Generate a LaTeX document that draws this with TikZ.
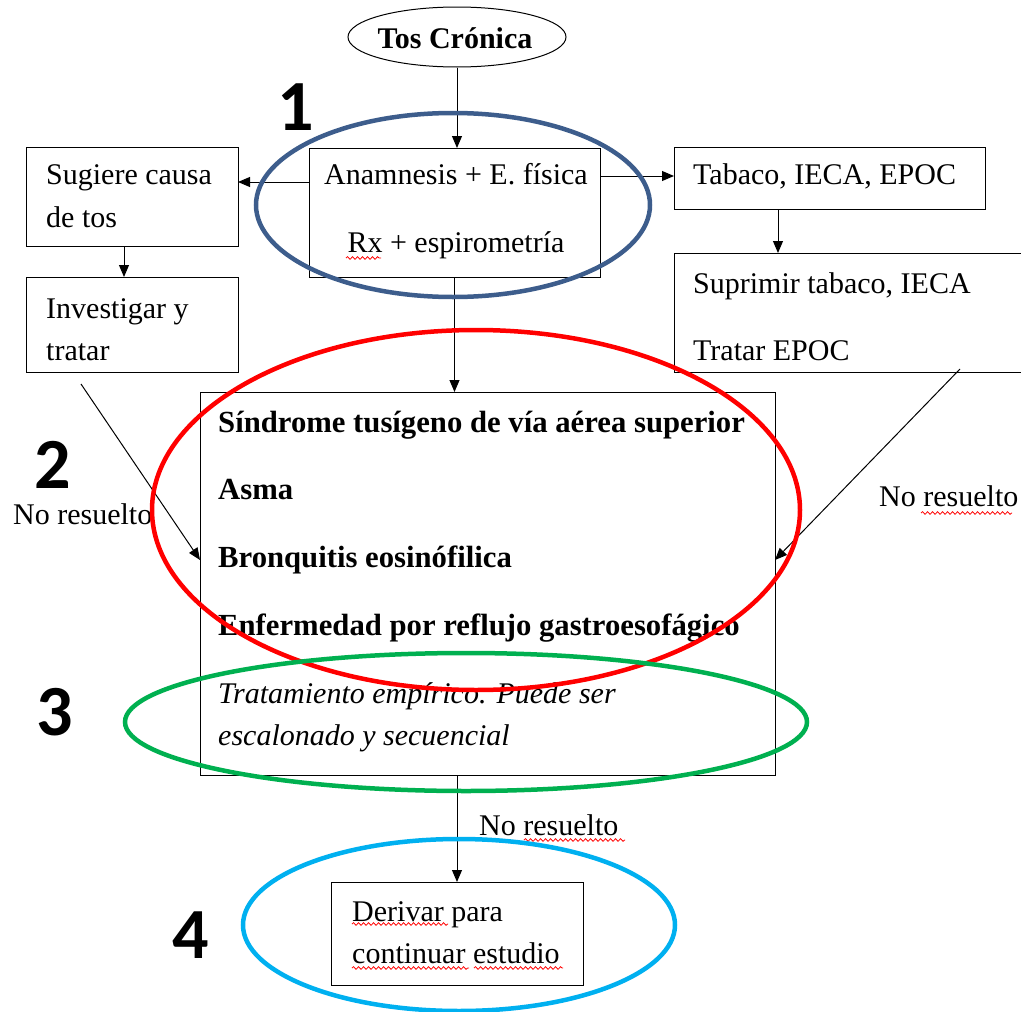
\documentclass[tikz,border=0pt]{standalone}
\usepackage{fontspec}
\setmainfont{Liberation Serif}
\newfontfamily\numfont{Carlito}
\usetikzlibrary{arrows.meta,calc,shapes.geometric,decorations.pathmorphing}
\definecolor{hlblue}{HTML}{3D5D8C}
\definecolor{hlred}{HTML}{FF0000}
\definecolor{hlgreen}{HTML}{00B050}
\definecolor{hlcyan}{HTML}{00B0F0}
\begin{document}
\begin{tikzpicture}[x=1pt,y=-1pt,
  box/.style={draw, line width=1pt, anchor=north west, inner sep=0pt, outer sep=0pt},
  txt/.style={anchor=base west, inner sep=0pt, font=\fontsize{30}{36}\selectfont},
  ctxt/.style={anchor=base, inner sep=0pt, font=\fontsize{30}{36}\selectfont},
  btxt/.style={txt, font=\fontsize{30.7}{36}\selectfont\bfseries},
  itxt/.style={txt, font=\fontsize{30}{36}\selectfont\itshape},
  num/.style={anchor=base, inner sep=0pt, font=\fontsize{72}{80}\selectfont\numfont\bfseries},
  arr/.style={line width=1pt, -{Triangle[length=12pt,width=10pt]}},
  hl/.style={line width=4.5pt},
  squig/.style={draw=red, line width=0.8pt, decorate, decoration={snake, segment length=5pt, amplitude=1.3pt}}]
\useasboundingbox (0,0) rectangle (1021,1012);
\clip (0,0) rectangle (1021,1012);

% start ellipse
\node[draw, ellipse, line width=1pt, minimum width=218pt, minimum height=60pt, inner sep=0pt] (T) at (457,37) {};
\node[ctxt, font=\fontsize{30}{36}\selectfont\bfseries] (Tt) at (455,48) {Tos Crónica};

% boxes
\node[box, minimum width=291pt, minimum height=129pt] (A) at (309,148) {};
\node[ctxt] (A1) at (456,184) {Anamnesis + E. física};
\node[ctxt] (A2) at (456,252) {Rx + espirometría};

\node[box, minimum width=212pt, minimum height=99pt] (S) at (26,147) {};
\node[txt] (S1) at (46,184) {Sugiere causa};
\node[txt] (S2) at (46,227) {de tos};

\node[box, minimum width=212pt, minimum height=95pt] (I) at (26,277) {};
\node[txt] (I1) at (46,318) {Investigar y};
\node[txt] (I2) at (46,360) {tratar};

\node[box, minimum width=311pt, minimum height=62pt] (B) at (674,147) {};
\node[txt] (B1) at (693,184) {Tabaco, IECA, EPOC};

\node[box, minimum width=370pt, minimum height=119pt] (U) at (674,253) {};
\node[txt] (U1) at (693,293) {Suprimir tabaco, IECA};
\node[txt] (U2) at (693,360) {Tratar EPOC};

\node[box, minimum width=575pt, minimum height=383pt] (M) at (200,392) {};
\node[btxt] (M1) at (218,432) {Síndrome tusígeno de vía aérea superior};
\node[btxt] (M2) at (218,499) {Asma};
\node[btxt] (M3) at (218,567) {Bronquitis eosinófilica};
\node[btxt] (M4) at (218,635) {Enfermedad por reflujo gastroesofágico};
\node[itxt] (M5) at (218,703) {Tratamiento empírico. Puede ser};
\node[itxt] (M6) at (218,745) {escalonado y secuencial};

\node[box, minimum width=252pt, minimum height=103pt] (D) at (331,882) {};
\node[txt] (D1) at (352,921) {Derivar para};
\node[txt] (D2) at (352,963) {continuar estudio};

% labels
\node[txt] (N1) at (13,524) {No resuelto};
\node[txt] (N2) at (879,506) {No resuelto};
\node[txt] (N3) at (479,835) {No resuelto};

% spell-check squiggles
\draw[squig] (346,258) -- (381,258);
\draw[squig] (921,513) -- (1012,513);
\draw[squig] (524,840) -- (625,840);
\draw[squig] (352,924) -- (448,924);
\draw[squig] (352,968) -- (469,968);
\draw[squig] (474,968) -- (563,968);

% connectors
\draw[arr] (T.south) -- (T.south |- A.north);
\coordinate (aL) at ([yshift=-34pt]A.north west);
\draw[arr] (aL) -- (aL -| S.east);
\coordinate (aR) at ([yshift=-28pt]A.north east);
\draw[arr] (aR) -- (aR -| B.west);
\coordinate (sB) at ([xshift=98pt]S.south west);
\draw[arr] (sB) -- (sB |- I.north);
\coordinate (bB) at ([xshift=104pt]B.south west);
\draw[arr] (bB) -- (bB |- U.north);
\draw[arr] (A.south) -- (A.south |- M.north);
\coordinate (iS) at ([xshift=55pt,yshift=-12pt]I.south west);
\coordinate (mL) at ([yshift=-168pt]M.north west);
\draw[arr] (iS) -- (mL);
\coordinate (uS) at ([xshift=286pt,yshift=3pt]U.south west);
\coordinate (mR) at ([yshift=-168pt]M.north east);
\draw[arr] (uS) -- (mR);
\coordinate (dT) at ([xshift=126pt]D.north west);
\draw[arr] (dT |- M.south) -- (dT);

% numbers
\node[num] (n1) at (296,130) {1};
\node[num] (n2) at (53,488) {2};
\node[num] (n3) at (55,735) {3};
\node[num] (n4) at (191,958) {4};

% highlight ellipses
\draw[hl, hlblue] (453,205) ellipse [x radius=197pt, y radius=92pt];
\draw[hl, hlred] (476,510) ellipse [x radius=324pt, y radius=180pt];
\draw[hl, hlgreen] (466,722) ellipse [x radius=341pt, y radius=69pt];
\draw[hl, hlcyan] (459,925) ellipse [x radius=216pt, y radius=86pt];
\end{tikzpicture}
\end{document}
